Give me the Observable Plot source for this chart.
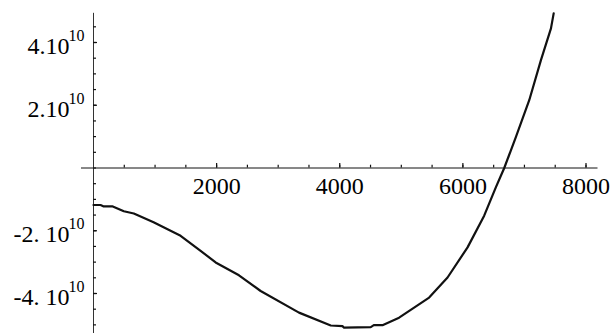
<!DOCTYPE html>
<html>
<head>
<meta charset="utf-8">
<script src="https://cdn.jsdelivr.net/npm/d3@7"></script>
<script src="https://cdn.jsdelivr.net/npm/@observablehq/plot@0.6"></script>
<style>
  html, body { margin: 0; padding: 0; background: #fff; }
  #chart svg { display: block; }
</style>
</head>
<body>
<div id="chart"></div>
<script>
// curve samples
const curveX = [0, 114, 158, 304, 493, 655, 976, 1415, 1740, 1984, 2363, 2715, 3338, 3854, 4044, 4070, 4504, 4553, 4694, 4964, 5452, 5751, 6076, 6346, 6537, 6672, 6862, 7078, 7268, 7431, 7475];
const curveY = [-1.18e10, -1.18e10, -1.22e10, -1.22e10, -1.38e10, -1.45e10, -1.73e10, -2.16e10, -2.64e10, -3.01e10, -3.42e10, -3.92e10, -4.61e10, -5.02e10, -5.04e10, -5.09e10, -5.07e10, -5.01e10, -5.01e10, -4.77e10, -4.13e10, -3.49e10, -2.53e10, -1.52e10, -0.61e10, 0, 0.99e10, 2.16e10, 3.44e10, 4.45e10, 4.93e10];

// axis ticks and labels
const xMinorTicks = d3.range(500, 8001, 500);
const xMajorTicks = [2000, 4000, 6000, 8000];
const xTickLabels = ["2000", "4000", "6000", "8000"];
const yMinorTicks = d3.range(-5e10, 4.6e10, 5e9);
const yMajorTicks = [4e10, 2e10, -2e10, -4e10];
const yTickMain = ["4.10", "2.10", "-2. 10", "-4. 10"];
const yTickSup = ["10", "10", "10", "10"];
const xAxisExtent = [-195, 8195];
const yAxisExtent = [-5.4e10, 4.93e10];

const curve = curveX.map((x, i) => ({x, y: curveY[i]}));
const xLabels = xMajorTicks.map((v, i) => ({v, t: xTickLabels[i]}));
const yLabels = yMajorTicks.map((v, i) => ({v, t: yTickMain[i], s: yTickSup[i]}));

const xRange = [93, 585.5], xDomain = [0, 8000];
const yRange = [293, 42], yDomain = [-4e10, 4e10];
const yPerPx = (yDomain[1] - yDomain[0]) / (yRange[0] - yRange[1]);
const xPerPx = (xDomain[1] - xDomain[0]) / (xRange[1] - xRange[0]);

const font = "'Liberation Serif', 'Times New Roman', serif";

const chart = Plot.plot({
  width: 616,
  height: 333,
  margin: 0,
  style: {fontFamily: font, background: "#fff", color: "#000"},
  x: {domain: xDomain, range: xRange, axis: null},
  y: {domain: yDomain, range: yRange, axis: null},
  marks: [
    // x axis line
    Plot.ruleY([0], {x1: xAxisExtent[0], x2: xAxisExtent[1], stroke: "#111", strokeWidth: 1}),
    // y axis line
    Plot.ruleX([0], {y1: yAxisExtent[0], y2: yAxisExtent[1], stroke: "#333", strokeWidth: 1}),
    // x ticks
    Plot.ruleX(xMinorTicks, {x: d => d, y1: 0, y2: 2.8 * yPerPx, stroke: "#111", strokeWidth: 1.2}),
    Plot.ruleX(xMajorTicks, {x: d => d, y1: 0, y2: 4.5 * yPerPx, stroke: "#111", strokeWidth: 1.2}),
    // y ticks
    Plot.ruleY(yMinorTicks, {y: d => d, x1: 0, x2: 3 * xPerPx, stroke: "#111", strokeWidth: 1.2}),
    Plot.ruleY(yMajorTicks, {y: d => d, x1: 0, x2: 4 * xPerPx, stroke: "#111", strokeWidth: 1.2}),
    // x tick labels
    Plot.text(xLabels, {x: "v", y: 0, text: "t", fontSize: 24, dy: 18, fill: "#000", textAnchor: "middle"}),
    // y tick labels (mantissa + superscript exponent)
    Plot.text(yLabels, {x: 0, y: "v", text: "t", fontSize: 24, dx: -24, dy: 3.8, fill: "#000", textAnchor: "end"}),
    Plot.text(yLabels, {x: 0, y: "v", text: "s", fontSize: 16, dx: -25, dy: -6.8, fill: "#000", textAnchor: "start"}),
    // curve
    Plot.line(curve, {x: "x", y: "y", stroke: "#111", strokeWidth: 2.2})
  ]
});
document.getElementById("chart").append(chart);
</script>
</body>
</html>
